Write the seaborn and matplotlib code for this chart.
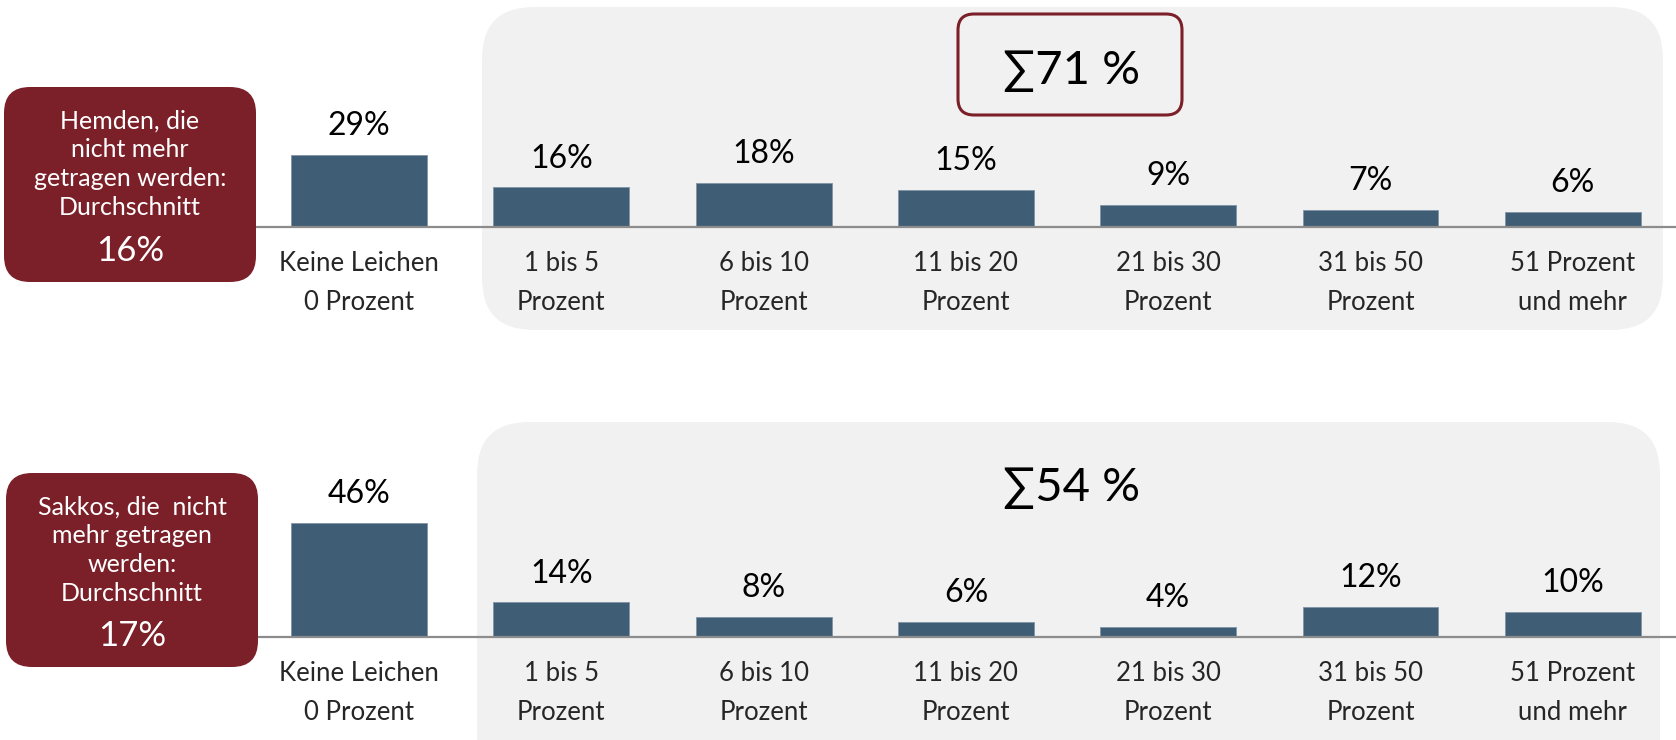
import matplotlib
matplotlib.use("Agg")
import matplotlib.pyplot as plt
from matplotlib.patches import FancyBboxPatch
import seaborn as sns

# Data
categories = ["Keine Leichen\n0 Prozent", "1 bis 5\nProzent", "6 bis 10\nProzent",
              "11 bis 20\nProzent", "21 bis 30\nProzent", "31 bis 50\nProzent",
              "51 Prozent\nund mehr"]
hemden = [29, 16, 18, 15, 9, 7, 6]
sakkos = [46, 14, 8, 6, 4, 12, 10]
box_labels = ["Hemden, die\nnicht mehr\ngetragen werden:\nDurchschnitt",
              "Sakkos, die  nicht\nmehr getragen\nwerden:\nDurchschnitt"]
box_avgs = ["16%", "17%"]

bar_color = "#405D76"
red = "#7B2029"
panel_grey = "#F1F1F1"

sns.set_style("white")
plt.rcParams['font.family'] = ['Lato', 'DejaVu Sans']

W, H = 1676, 740
fig = plt.figure(figsize=(W / 100, H / 100), dpi=100)
tr = fig.dpi_scale_trans


def rbox(x0, y0, x1, y1, r, fc, ec="none", lw=0, z=-1):
    # pixel coords measured from the top-left corner
    p = FancyBboxPatch((x0 / 100, (H - y1) / 100), (x1 - x0) / 100, (y1 - y0) / 100,
                       boxstyle=f"round,pad=0,rounding_size={r / 100}",
                       transform=tr, facecolor=fc, edgecolor=ec, linewidth=lw, zorder=z)
    fig.add_artist(p)


def ftext(x, y, s, **kw):
    fig.text(x / 100, (H - y) / 100, s, transform=tr, ha="center", va="center", **kw)


# grey panels behind the bar groups
rbox(482, 7, 1663, 330, 52, panel_grey)
rbox(477, 422, 1660, 790, 52, panel_grey)

# sigma box on top panel
rbox(958, 14, 1182, 115, 16, panel_grey, ec=red, lw=2.2, z=1)

px_per_unit = 2.47
ax_h = 210
rows = [(hemden, 227, (87, 282), (4, 256)), (sakkos, 637, (473, 667), (6, 258))]

for i, (values, base, (by0, by1), (bx0, bx1)) in enumerate(rows):
    ax = fig.add_axes([257 / W, (H - base) / H, (W - 257) / W, ax_h / H])
    ax.set_facecolor("none")
    sns.barplot(x=categories, y=values, ax=ax, color=bar_color, width=0.672,
                saturation=1, edgecolor="#7F95A8", linewidth=0.6)
    ax.set_xlim(-0.504, 6.51)
    ax.set_ylim(0, ax_h / px_per_unit)
    ax.bar_label(ax.containers[0], labels=[f"{v}%" for v in values],
                 padding=10, fontsize=23, color="black")
    for s in ["top", "left", "right"]:
        ax.spines[s].set_visible(False)
    ax.spines["bottom"].set_color("#8C8C8C")
    ax.spines["bottom"].set_linewidth(1.6)
    ax.set_yticks([])
    ax.set_ylabel("")
    ax.set_xticks(range(len(categories)))
    ax.set_xticklabels([])
    ax.tick_params(axis="x", length=0)
    for j, c in enumerate(categories):
        ax.annotate(c, xy=(j, 0), xycoords=("data", "axes fraction"),
                    xytext=(0, -17), textcoords="offset points",
                    ha="center", va="top", fontsize=18.5, linespacing=1.72)

    # summary box on the left
    rbox(bx0, by0, bx1, by1, 26, red, z=1)
    cx = (bx0 + bx1) / 2
    ftext(cx, by0 + 77, box_labels[i], fontsize=18, color="white",
          linespacing=1.3, zorder=2)
    ftext(cx, by1 - 31, box_avgs[i], fontsize=25, color="white", zorder=2)

    # sum over the non-zero groups
    ftext(1072, 71 if i == 0 else 488, f"\u2211{sum(values[1:])} %",
          fontsize=34, color="black", zorder=2)

fig.savefig("out.png", dpi=100)
